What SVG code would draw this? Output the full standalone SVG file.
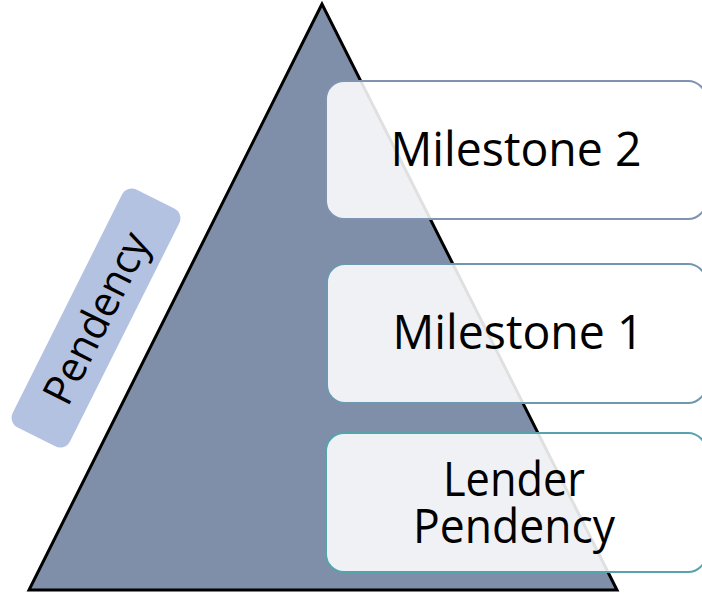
<svg xmlns="http://www.w3.org/2000/svg" width="702" height="593" viewBox="0 0 702 593">
  <style>
    .box { fill: #ffffff; fill-opacity: 0.88; stroke-width: 2; }
    .lbl { font-family: "Open Sans", "Noto Sans", sans-serif; font-size: 47px; fill: #000000; text-anchor: middle; }
  </style>
  <rect width="702" height="593" fill="#ffffff"/>
  <g id="pyramid">
    <polygon points="322,4 29,590 617,590" fill="#7f8fa9" stroke="#000000" stroke-width="3" stroke-linejoin="miter"/>
  </g>
  <g id="pendency-label">
    <g transform="translate(96,318) rotate(-63.4)">
      <rect x="-133" y="-32" width="266" height="64" rx="11" fill="#b4c2e1"/>
      <text class="lbl" x="0" y="15" style="font-size:42px" textLength="186" lengthAdjust="spacingAndGlyphs">Pendency</text>
    </g>
  </g>
  <g id="milestone2">
    <rect class="box" x="326" y="81" width="380" height="138" rx="18" stroke="#7f92b0"/>
    <text class="lbl" x="516" y="166" textLength="251" lengthAdjust="spacingAndGlyphs">Milestone 2</text>
  </g>
  <g id="milestone1">
    <rect class="box" x="327" y="264" width="379" height="139" rx="18" stroke="#6d98b0"/>
    <text class="lbl" x="518" y="349" textLength="251" lengthAdjust="spacingAndGlyphs">Milestone 1</text>
  </g>
  <g id="lender-pendency">
    <rect class="box" x="326" y="433" width="380" height="139" rx="18" stroke="#55a3ad"/>
    <text class="lbl"><tspan x="514" y="496" textLength="142" lengthAdjust="spacingAndGlyphs">Lender</tspan><tspan x="514" y="543" textLength="202" lengthAdjust="spacingAndGlyphs">Pendency</tspan></text>
  </g>
  <g id="connectors"></g>
</svg>
